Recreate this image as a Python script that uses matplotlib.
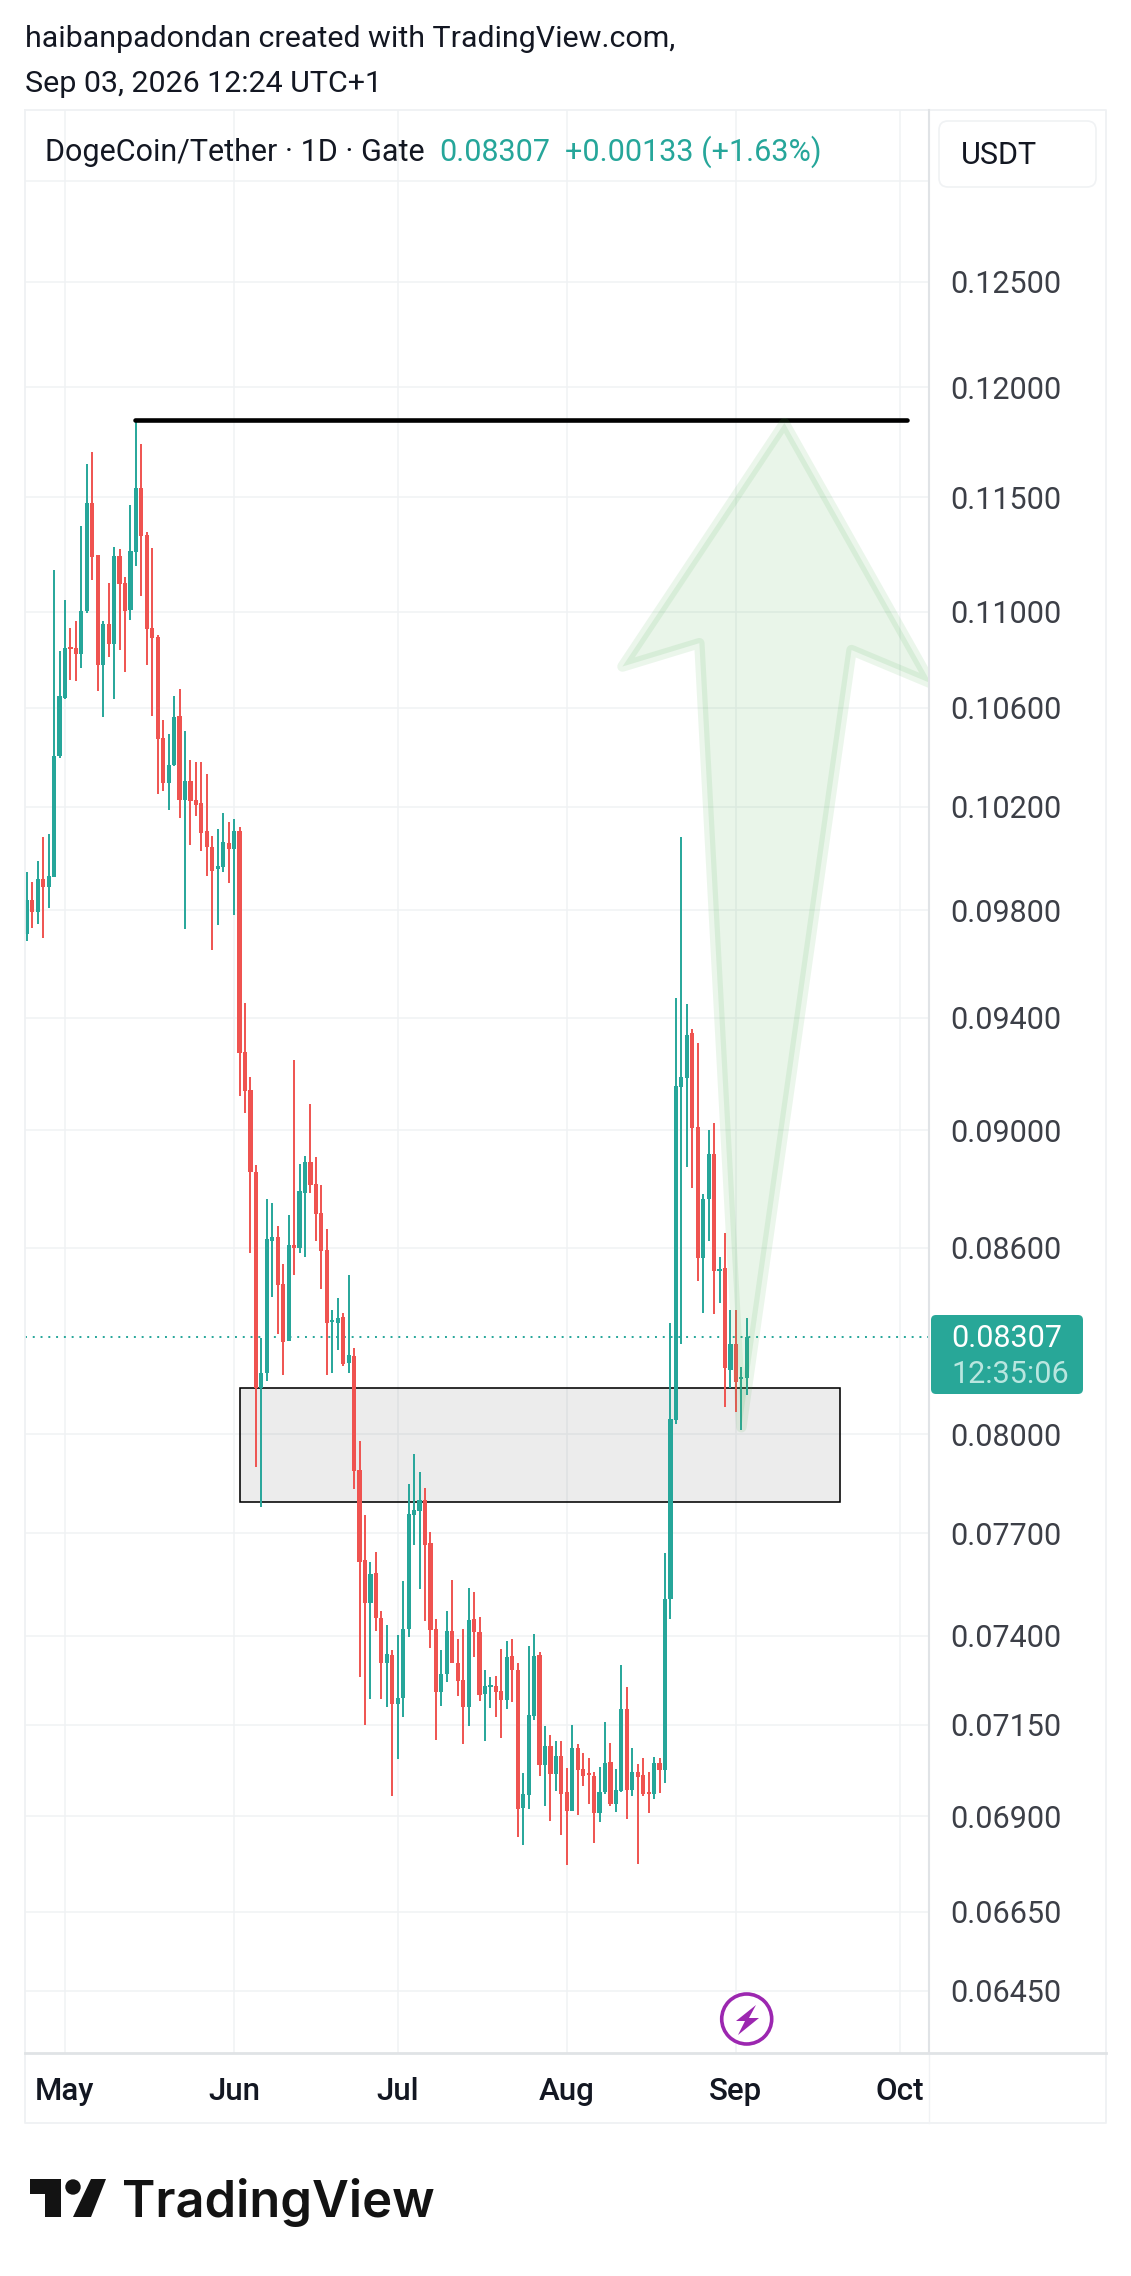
import numpy as np
import matplotlib
matplotlib.use('Agg')
import matplotlib.pyplot as plt
import matplotlib.dates as mdates
from matplotlib.patches import Rectangle, Polygon, Circle, FancyBboxPatch

plt.rcParams['font.family'] = ['Roboto', 'DejaVu Sans']

# daily candles, first one is 2026-04-24
first_day = '2026-04-24'
opens = [.09710,.09839,.09794,.09920,.09889,.09927,.10403,.10639,.10852,.10847,
         .10822,.11004,.11474,.11245,.10777,.10949,.10864,.11241,.11124,.11009,
         .11258,.11541,.11333,.10932,.10894,.10476,.10296,.10367,.10566,.10228,
         .10304,.10228,.10216,.10106,.10043,.09958,.09966,.10059,.10035,.10106,
         .09277,.09142,.08856,.08145,.08192,.08622,.08636,.08480,.08294,.08609,
         .08599,.08784,.08890,.08815,.08716,.08592,.08356,.08352,.08372,.08224,
         .08246,.07890,.07620,.07494,.07582,.07451,.07322,.07345,.07207,.07224,
         .07419,.07754,.07766,.07799,.07670,.07419,.07241,.07291,.07414,.07322,
         .07274,.07199,.07448,.07411,.07235,.07255,.07257,.07243,.07218,.07342,
         .07303,.06922,.06957,.07174,.07345,.07038,.07090,.07014,.07063,.06965,
         .06914,.07085,.07027,.07014,.07008,.06908,.06965,.07046,.06932,.06968,
         .07193,.06970,.07019,.07011,.06962,.06959,.07044,.07025,.07506,.08045,
         .09153,.09184,.09345,.09011,.08566,.08763,.08917,.08523,.08533,.08202,
         .08284,.08174,.08177]
highs = [.09947,.09908,.09989,.10082,.10094,.11181,.10835,.11051,.10932,.10962,
         .11373,.11649,.11703,.11245,.10962,.11124,.11280,.11271,.11150,.11465,
         .11849,.11739,.11346,.11276,.10903,.10549,.10492,.10648,.10677,.10505,
         .10387,.10379,.10379,.10331,.10086,.10114,.10177,.10141,.10153,.10122,
         .09454,.09188,.08880,.08304,.08763,.08750,.08673,.08546,.08710,.09248,
         .08883,.08910,.09092,.08907,.08811,.08663,.08395,.08434,.08385,.08510,
         .08271,.07979,.07754,.07614,.07643,.07471,.07431,.07359,.07402,.07558,
         .07848,.07939,.07884,.07835,.07703,.07448,.07359,.07471,.07561,.07390,
         .07419,.07538,.07526,.07454,.07303,.07283,.07286,.07362,.07385,.07390,
         .07322,.07016,.07370,.07405,.07353,.07146,.07121,.07104,.07104,.07030,
         .07149,.07096,.07071,.07057,.07019,.07033,.07157,.07099,.07027,.07317,
         .07255,.07085,.07041,.07057,.07019,.07060,.07057,.07640,.08352,.09472,
         .10082,.09451,.09359,.09309,.08780,.09001,.09025,.08569,.08649,.08395,
         .08395,.08211,.08369]
lows = [.09684,.09733,.09748,.09695,.09809,.09927,.10395,.10635,.10714,.10710,
        .10764,.10996,.11137,.10669,.10562,.10810,.10635,.10839,.10747,.10966,
        .11198,.11068,.10777,.10566,.10252,.10263,.10189,.10363,.10157,.09729,
        .10051,.10165,.10027,.09931,.09650,.09744,.09947,.09904,.09782,.09120,
        .09060,.08582,.07899,.07778,.08167,.08437,.08317,.08186,.08294,.08510,
        .08582,.08569,.08784,.08622,.08463,.08186,.08192,.08265,.08214,.08192,
        .07832,.07283,.07149,.07221,.07414,.07221,.07199,.06954,.07055,.07171,
        .07396,.07664,.07535,.07442,.07365,.07107,.07201,.07269,.07322,.07230,
        .07096,.07146,.07339,.07215,.07104,.07196,.07171,.07112,.07193,.07212,
        .06845,.06823,.06919,.07162,.07008,.06927,.06887,.06968,.06850,.06771,
        .06914,.06903,.06981,.06932,.06829,.06885,.06959,.06927,.06911,.06965,
        .06893,.06954,.06774,.06954,.06908,.06948,.06962,.06990,.07448,.08032,
        .08284,.08873,.08801,.08490,.08385,.08622,.08382,.08417,.08085,.08145,
        .08070,.08013,.08123]
closes = [.09839,.09794,.09920,.09889,.09931,.10403,.10648,.10847,.10843,.10822,
          .11004,.11474,.11237,.10777,.10949,.10864,.11241,.11120,.11004,.11263,
          .11541,.11329,.10928,.10890,.10472,.10296,.10367,.10562,.10228,.10304,
          .10224,.10208,.10098,.10043,.09950,.09970,.10063,.10035,.10106,.09273,
          .09138,.08856,.08145,.08192,.08629,.08636,.08477,.08291,.08609,.08599,
          .08791,.08890,.08811,.08713,.08589,.08352,.08362,.08369,.08221,.08249,
          .07887,.07614,.07494,.07579,.07451,.07322,.07348,.07207,.07224,.07419,
          .07757,.07769,.07799,.07664,.07417,.07241,.07291,.07414,.07322,.07272,
          .07199,.07445,.07411,.07232,.07257,.07260,.07241,.07218,.07339,.07303,
          .06919,.06959,.07176,.07342,.07038,.07090,.07014,.07063,.06959,.06914,
          .07085,.07025,.07008,.07011,.06908,.06965,.07044,.06932,.06970,.07193,
          .06970,.07019,.07005,.06959,.06959,.07044,.07025,.07506,.08048,.09156,
          .09188,.09338,.09008,.08566,.08763,.08917,.08523,.08529,.08208,.08284,
          .08164,.08177,.08307]

price_ticks = [.13,.125,.12,.115,.11,.106,.102,.098,.094,.09,.086,.08,.077,.074,.0715,.069,.0665,.0645]
price_labels = ['','0.12500','0.12000','0.11500','0.11000','0.10600','0.10200','0.09800','0.09400',
                '0.09000','0.08600','0.08000','0.07700','0.07400','0.07150','0.06900','0.06650','0.06450']
month_days = ['2026-05-01','2026-06-01','2026-07-01','2026-08-01','2026-09-01','2026-10-01']
month_labels = ['May','Jun','Jul','Aug','Sep','Oct']
last_price = .08307

# drawings on the chart, x in days after first_day
zone_days = [39.05, 149.0]
zone_prices = [.08145, .07793]
top_line_days = [19.8, 161.3]
top_line_price = .11849
arrow_days = [138.9, 165.8, 151.2, 131.0, 123.3, 109.2]
arrow_prices = [.11835, .10700, .10839, .08022, .10868, .10770]

up_col = '#26a69a'
down_col = '#ef5350'
grid_col = '#f0f2f4'
sep_col = '#e0e3e6'
W, H = 1131, 2276

fig = plt.figure(figsize=(W/100, H/100), dpi=100)
ax = fig.add_axes([25/W, 1-2053/H, (929-25)/W, (2053-110)/H])

t0 = mdates.datestr2num(first_day)
opens, highs, lows, closes = map(np.array, (opens, highs, lows, closes))
days = t0 + np.arange(len(opens))
colors = np.where(closes >= opens, up_col, down_col)

ax.set_yscale('log')
ax.set_xlim(t0-0.33, t0+165.4)
ax.set_ylim(.06296, .1336)

# candles
ax.vlines(days, lows, highs, colors=colors, lw=1.4, zorder=3)
ax.bar(days, np.maximum(np.abs(closes-opens), .00006), bottom=np.minimum(opens, closes),
       width=0.76, color=colors, lw=0, zorder=3)

# zone box
ax.add_patch(Rectangle((t0+zone_days[0], zone_prices[1]), zone_days[1]-zone_days[0],
                       zone_prices[0]-zone_prices[1], facecolor=(0.45, 0.45, 0.45, 0.135),
                       edgecolor='black', lw=1.15, zorder=2))

ax.axhline(last_price, color=up_col, lw=1.4, ls=(0, (1, 3)), zorder=2)

ax.plot(t0+np.array(top_line_days), [top_line_price]*2, color='black', lw=3.3,
        solid_capstyle='round', zorder=4)

# arrow, fill and stroke are separate so the stroke doubles up over the fill
arrow_xy = np.column_stack([t0+np.array(arrow_days), arrow_prices])
ax.add_patch(Polygon(arrow_xy, closed=True, facecolor='#4caf50', alpha=0.12, lw=0, zorder=5))
ax.add_patch(Polygon(arrow_xy, closed=True, fill=False, edgecolor='#4caf50', alpha=0.11, lw=7.5,
                     joinstyle='round', zorder=5))

ax.minorticks_off()
ax.set_yticks(price_ticks, price_labels)
ax.set_xticks(mdates.datestr2num(month_days), month_labels)
ax.minorticks_off()
ax.yaxis.tick_right()
ax.tick_params(axis='y', length=0, pad=15.5, labelsize=22, labelcolor='#3c3f47')
ax.tick_params(axis='x', length=0, pad=17, labelsize=22.5, labelcolor='#131722')
for lab in ax.get_xticklabels():
    lab.set_fontweight('medium')
ax.grid(True, color=grid_col, lw=1.1)
ax.set_axisbelow(True)
for s in ax.spines.values():
    s.set_visible(False)

# everything outside the plot area is placed in pixels
ui = fig.add_axes([0, 0, 1, 1], zorder=5)
ui.set_xlim(0, W)
ui.set_ylim(H, 0)
ui.axis('off')

ui.plot([25, 1106, 1106, 25, 25], [110, 110, 2123, 2123, 110], color='#eff1f3', lw=1.3)
ui.plot([929, 929], [110, 2053], color=sep_col, lw=1.5)
ui.plot([929, 929], [2053, 2123], color=grid_col, lw=1.0)
ui.plot([25, 1106], [2053, 2053], color=sep_col, lw=2.0)

fs = 22
ui.text(25, 39, 'haibanpadondan created with TradingView.com,', fontsize=21.85, color='#131722', va='center')
ui.text(25, 84, 'Sep 03, 2026 12:24 UTC+1', fontsize=21.85, color='#131722', va='center')
ui.text(45, 152, 'DogeCoin/Tether · 1D · Gate', fontsize=fs, color='#131722', va='center')
ui.text(439, 152, '0.08307', fontsize=fs, color=up_col, va='center')
ui.text(565, 152, '+0.00133 (+1.63%)', fontsize=fs, color=up_col, va='center')

ui.add_patch(FancyBboxPatch((939, 121), 157, 66, boxstyle='round,pad=0,rounding_size=9',
                            facecolor='white', edgecolor='#f0f2f4', lw=1.2))
ui.text(961, 155, 'USDT', fontsize=fs, color='#131722', va='center')

# last price tag
ui.add_patch(FancyBboxPatch((931, 1315), 152, 79, boxstyle='round,pad=0,rounding_size=5',
                            facecolor='#28a798', edgecolor='none'))
ui.text(951, 1338, '0.08307', fontsize=fs, color='white', va='center')
ui.text(951, 1374, '12:35:06', fontsize=fs, color='#b9e6df', va='center')

# flash icon
ui.add_patch(Circle((746.7, 2019), 25, facecolor='white', edgecolor='#9c27b0', lw=2.6))
ui.add_patch(Polygon([(756, 2005), (736, 2021), (745, 2021), (738, 2035), (759, 2018), (749, 2018)],
                     closed=True, facecolor='#9c27b0', lw=0))

# logo
ui.add_patch(Polygon([(30, 2179), (61, 2179), (61, 2217), (45, 2217), (45, 2194), (30, 2194)],
                     closed=True, facecolor='#131313', lw=0))
ui.add_patch(Circle((73, 2187), 7.7, facecolor='#131313', lw=0))
ui.add_patch(Polygon([(91, 2179), (106, 2179), (91, 2217), (73, 2217)], closed=True,
                     facecolor='#131313', lw=0))
ui.text(122.5, 2217, 'TradingView', fontsize=36.5, fontweight='semibold', family=['Inter', 'DejaVu Sans'],
        color='#131313', va='baseline')

fig.savefig('out.png', dpi=100)
